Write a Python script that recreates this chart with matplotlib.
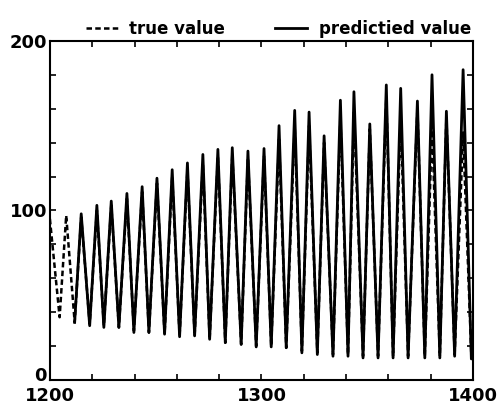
import numpy as np
from matplotlib import pyplot as plt
from matplotlib.transforms import ScaledTranslation

plt.rcParams['font.family'] = ['DejaVu Sans']

# turning points (time step) of the oscillation
t_turn = [1200.0, 1204.6, 1207.7, 1211.7, 1214.8, 1218.8, 1222.2, 1225.5, 1229.0, 1232.6,
          1236.4, 1239.7, 1243.6, 1246.8, 1250.6, 1254.2, 1257.8, 1261.3, 1265.0, 1268.4,
          1272.3, 1275.5, 1279.4, 1282.9, 1286.2, 1290.4, 1293.6, 1297.5, 1301.2, 1304.6,
          1308.3, 1311.7, 1315.7, 1319.1, 1322.5, 1326.4, 1329.6, 1333.8, 1337.3, 1340.9,
          1343.7, 1348.0, 1351.2, 1355.1, 1359.0, 1362.2, 1365.8, 1369.3, 1373.7, 1377.2,
          1380.6, 1384.3, 1387.4, 1391.3, 1395.3, 1399.2, 1400.0]

true_vals = [95, 37, 97, 34, 96, 33, 100, 32, 103, 31,
             107, 29, 111, 28, 116, 27, 120, 26, 124, 26,
             128, 24, 132, 22, 133, 21, 131, 20, 132, 20,
             142, 19, 150, 17, 150, 16, 140, 15, 155, 15,
             158, 14, 148, 14, 167, 14, 155, 14, 160, 14,
             150, 14, 155, 15, 146, 14, 20]

pred_vals = [np.nan, np.nan, np.nan, 34, 98, 32, 103, 31, 105.5, 31,
             110, 28, 114, 28, 119, 27, 124, 25.5, 128, 26,
             133, 24, 136, 22, 137, 21, 135, 19.5, 136.5, 19.5,
             150, 19, 159, 16, 158, 15, 144, 14, 165, 14,
             170, 13, 151, 13, 174, 13, 172, 13, 164.5, 13,
             180, 13, 158.5, 14, 183, 12.4, 18]

fig = plt.figure(figsize=(4.99, 4.13), dpi=100)
ax = fig.add_axes([0.100, 0.080, 0.848, 0.821])

ax.plot(t_turn, true_vals, color='black', lw=1.8, ls=(0, (2.2, 1.3)), label='true value')
ax.plot(t_turn, pred_vals, color='black', lw=2.0, ls='-', label='predictied value')

ax.set_xlim(1200, 1400)
ax.set_ylim(0, 200)
ax.set_xticks([1200, 1300, 1400])
ax.set_yticks([0, 100, 200])
ax.set_xticks(np.arange(1200, 1401, 20), minor=True)
ax.set_yticks(np.arange(0, 201, 20), minor=True)
ax.tick_params(which='both', direction='in', top=True, right=True, width=1.2)
ax.tick_params(which='major', length=4, labelsize=13)
ax.tick_params(axis='x', which='major', pad=5)
ax.tick_params(axis='y', which='major', pad=2)
ax.tick_params(which='minor', length=4)
for lab in ax.get_yticklabels() + ax.get_xticklabels():
    lab.set_fontweight('bold')
# the 0 label sits a little above the axis line in the original
lab0 = ax.get_yticklabels()[0]
lab0.set_transform(lab0.get_transform() + ScaledTranslation(0, 4.5 / 72, fig.dpi_scale_trans))
for sp in ax.spines.values():
    sp.set_linewidth(1.5)

ax.legend(loc='lower center', bbox_to_anchor=(0.54, 0.99), ncol=2, frameon=False,
          handlelength=1.9, columnspacing=3.0, handletextpad=0.7,
          prop={'size': 12, 'weight': 'bold'}, borderaxespad=0.0)

fig.savefig('out.png', dpi=100)
